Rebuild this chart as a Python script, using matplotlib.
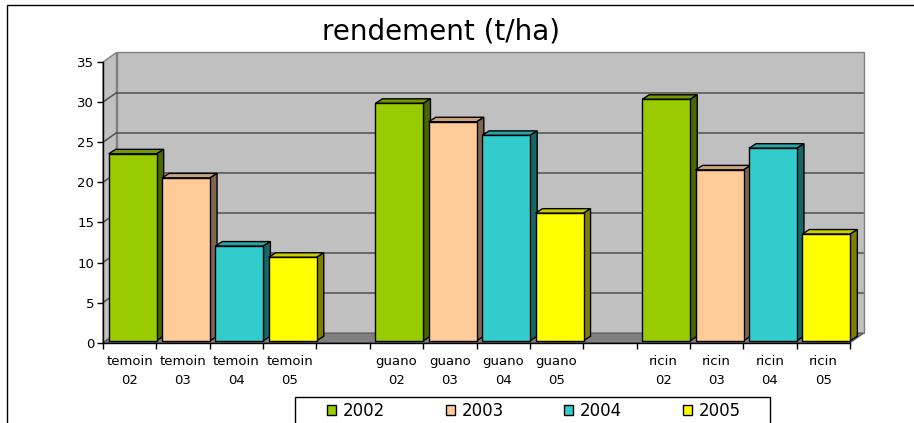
import numpy as np
import matplotlib
matplotlib.use("Agg")
import matplotlib.pyplot as plt
from matplotlib.patches import Rectangle, Polygon, Patch

# data
groups = ['temoin', 'guano', 'ricin']
years = ['2002', '2003', '2004', '2005']
suffix = ['02', '03', '04', '05']
temoin = [23.3, 20.3, 11.8, 10.4]
guano = [29.6, 27.3, 25.6, 15.9]
ricin = [30.1, 21.3, 24.0, 13.3]

front_col = ['#99CC00', '#FFCC99', '#33CCCC', '#FFFF00']
top_col = ['#739900', '#C9A27C', '#29A3A3', '#CCCC00']
side_col = ['#4C6600', '#806650', '#1A6666', '#808000']

W, H, DPI = 914, 423, 100
fig = plt.figure(figsize=(W / DPI, H / DPI), dpi=DPI)

# front plane of the plot in pixels
x0, x1, y35, y0 = 103, 850, 62, 342.7
ncat = 14
ax = fig.add_axes([x0 / W, 1 - y0 / H, (x1 - x0) / W, (y0 - y35) / H])
ax.set_xlim(0, ncat)
ax.set_ylim(0, 35)
ax.patch.set_visible(False)

pxx = (x1 - x0) / ncat
pxy = (y0 - y35) / 35
bx, by = 13.5 / pxx, 9.5 / pxy      # wall depth
sx, sy = 3 / pxx, 2 / pxy           # bars sit a bit behind the front
dx, dy = 7 / pxx, 4.5 / pxy         # bar depth

# walls and floor
wall = '#C0C0C0'
edge = '#808080'
ax.add_patch(Rectangle((bx, by), ncat, 35, fc=wall, ec=edge, lw=1, zorder=0.5, clip_on=False))
ax.add_patch(Polygon([(0, 0), (0, 35), (bx, 35 + by), (bx, by)],
                     closed=True, fc=wall, ec=edge, lw=1, zorder=0.6, clip_on=False))
for v in range(5, 35, 5):
    ax.plot([bx, ncat + bx], [v + by, v + by], color='#505050', lw=1.1, zorder=0.7, clip_on=False)
    ax.plot([0, bx], [v, v + by], color='#505050', lw=1.1, zorder=0.7, clip_on=False)
ax.add_patch(Polygon([(0, 0), (ncat, 0), (ncat + bx, by), (bx, by)],
                     closed=True, fc='#808080', ec='#606060', lw=1, zorder=0.8, clip_on=False))

# categories: 4 per group, one blank between groups
pos, vals, cols, labels = [], [], [], []
for g, (name, data) in enumerate(zip(groups, [temoin, guano, ricin])):
    for j, v in enumerate(data):
        pos.append(g * 5 + j + 0.5)
        vals.append(v)
        cols.append(j)
        labels.append(name + '\n' + suffix[j])

bw = 0.9
bars = ax.bar(np.array(pos) + sx, vals, width=bw, bottom=sy,
              color=[front_col[c] for c in cols], edgecolor='black', lw=1, clip_on=False)
for i, (p, v, c, b) in enumerate(zip(pos, vals, cols, bars)):
    z = 3 + 0.01 * i
    b.set_zorder(z + 0.005)
    l = p + sx - bw / 2
    r = p + sx + bw / 2
    t = sy + v
    ax.add_patch(Polygon([(l, t), (r, t), (r + dx, t + dy), (l + dx, t + dy)],
                         closed=True, fc=top_col[c], ec='black', lw=1, zorder=z, clip_on=False))
    ax.add_patch(Polygon([(r, sy), (r, t), (r + dx, t + dy), (r + dx, sy + dy)],
                         closed=True, fc=side_col[c], ec='black', lw=1, zorder=z, clip_on=False))

# axes
for s in ['top', 'right']:
    ax.spines[s].set_visible(False)
for s in ['left', 'bottom']:
    ax.spines[s].set_color('black')
    ax.spines[s].set_linewidth(1)
    ax.spines[s].set_zorder(5)

ax.set_yticks(range(0, 36, 5))
ax.tick_params(axis='y', length=4.3, width=1, pad=2, labelsize=9.5, colors='black')
ax.set_xticks(range(0, ncat + 1))
ax.set_xticklabels([])
ax.tick_params(axis='x', which='major', length=4, width=1)
ax.set_xticks(pos, minor=True)
ax.set_xticklabels(labels, minor=True, fontsize=9.5, linespacing=1.6)
ax.tick_params(axis='x', which='minor', length=0, pad=8.5)

fig.text(441 / W, 1 - 39.5 / H, 'rendement (t/ha)', ha='center', va='baseline', fontsize=20)

# chart border and legend
fig.add_artist(Rectangle((7 / W, -0.1), 1.2, 1.1 - 5 / H, transform=fig.transFigure,
                         fill=False, ec='black', lw=1, clip_on=False))
fig.add_artist(Rectangle((294.7 / W, -0.1), (770 - 294.7) / W, 0.1 + 1 - 397.3 / H,
                         transform=fig.transFigure, fill=False, ec='black', lw=1, clip_on=False))
handles = [Patch(facecolor=front_col[j], edgecolor='black', lw=1) for j in range(4)]
fig.legend(handles, years, ncol=4, loc='center left',
           bbox_to_anchor=(327 / W, 1 - 411 / H), frameon=False, fontsize=12,
           handlelength=0.54, handleheight=0.54, handletextpad=0.42,
           columnspacing=3.62, borderpad=0, borderaxespad=0)

fig.savefig('out.png', dpi=DPI)
